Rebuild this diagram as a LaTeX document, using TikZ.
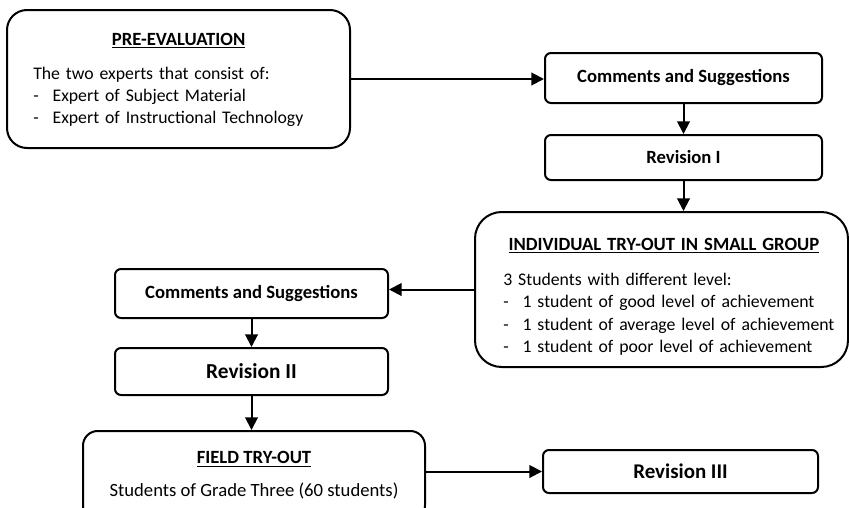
\documentclass[tikz,border=0pt]{standalone}
\usepackage{fontspec}
\setmainfont{Carlito}
\usetikzlibrary{arrows.meta}
\tikzset{
  box/.style={draw, line width=1.5pt, rounded corners=4.5pt, align=center, inner sep=0pt,
    font=\fontsize{14}{17}\selectfont\bfseries},
  bigbox/.style={draw, line width=1.5pt, inner sep=0pt},
  boxtext/.style={inner sep=0pt, align=left, font=\fontsize{13.3}{16.6}\selectfont},
  arr/.style={line width=1.5pt, -{Triangle[length=9.5pt,width=9.5pt]}},
}
\newcommand{\dashitem}{\makebox[14.5pt][l]{-}}
\begin{document}
\begin{tikzpicture}[x=0.75pt,y=-0.75pt]
\clip (0,0) rectangle (849,507);
% boxes
\node[bigbox, rounded corners=15pt, minimum width=257.25pt, minimum height=103.5pt] (pre) at (178.5,79) {};
\node[boxtext, anchor=north west, text width=218pt] (pretext) at (33,33)
  {\makebox[\linewidth][c]{\fontsize{14}{16.6}\selectfont\textbf{\underline{PRE-EVALUATION}}}\\[9pt]
   The two experts that consist of:\\
   \dashitem Expert of Subject Material\\
   \dashitem Expert of Instructional Technology};
\node[box, minimum width=207.75pt, minimum height=37.5pt] (cs1) at (683.5,78) {Comments and Suggestions};
\node[box, minimum width=207.75pt, minimum height=33.75pt] (rev1) at (683.5,157.5) {Revision I};
\node[bigbox, rounded corners=20pt, minimum width=279.75pt, minimum height=116.25pt] (ind) at (661.5,289.5) {};
\node[boxtext, anchor=north west, text width=252pt, font=\fontsize{13.3}{16.8}\selectfont] (indtext) at (503,238)
  {\makebox[\linewidth][c]{\fontsize{14}{16.8}\selectfont\textbf{\underline{INDIVIDUAL TRY-OUT IN SMALL GROUP}}\hspace*{11pt}}\\[9.5pt]
   3 Students with different level:\\
   \dashitem 1 student of good level of achievement\\
   \dashitem 1 student of average level of achievement\\
   \dashitem 1 student of poor level of achievement};
\node[box, minimum width=204.75pt, minimum height=36.75pt] (cs2) at (251.5,293.5) {Comments and Suggestions};
\node[box, minimum width=204.75pt, minimum height=35.25pt, font=\fontsize{16}{19}\selectfont\bfseries] (rev2) at (251.5,371.5) {Revision II};
\node[bigbox, rounded corners=11pt, minimum width=256.5pt, minimum height=66.75pt, align=center,
      font=\fontsize{14}{16.8}\selectfont] (field) at (254,475.5)
  {\textbf{\underline{FIELD TRY-OUT}}\\[8pt] Students of Grade Three (60 students)};
\node[box, minimum width=206.25pt, minimum height=32.25pt, font=\fontsize{15.7}{19}\selectfont\bfseries] (rev3) at (680.5,471.5) {Revision III};
% connectors
\draw[arr] (pre.east) -- (pre.east -| cs1.west);
\draw[arr] (rev1.north |- cs1.south) -- (rev1.north);
\draw[arr] (rev1.south) -- (rev1.south |- ind.north);
\draw[arr] (ind.west) -- (ind.west -| cs2.east);
\draw[arr] (cs2.south) -- (rev2.north);
\draw[arr] (rev2.south) -- (rev2.south |- field.north);
\draw[arr] (rev3.west -| field.east) -- (rev3.west);
\end{tikzpicture}
\end{document}
